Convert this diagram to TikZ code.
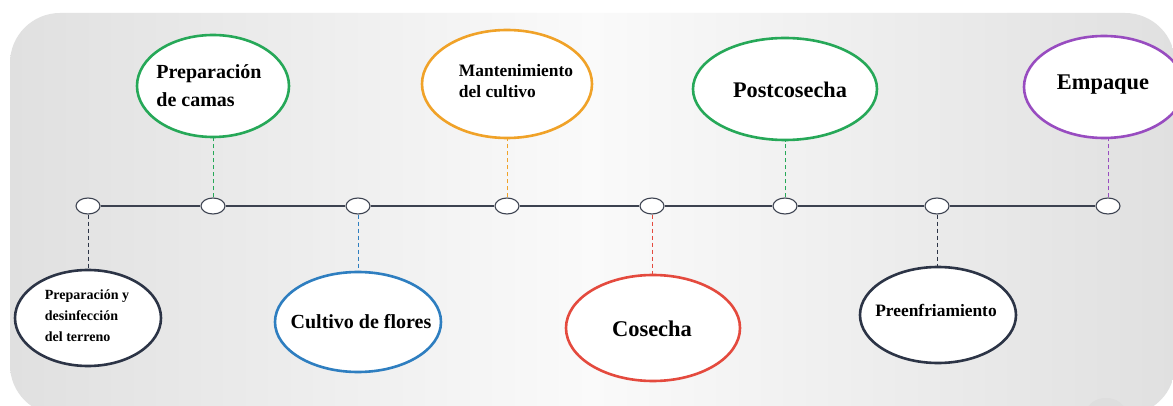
\documentclass[tikz,border=0pt]{standalone}
\usepackage{fontspec}
\setmainfont{Liberation Serif}
\usetikzlibrary{shapes.geometric}
\definecolor{navy}{RGB}{44,52,70}
\definecolor{cgreen}{RGB}{38,168,88}
\definecolor{cblue}{RGB}{46,126,192}
\definecolor{corange}{RGB}{240,162,40}
\definecolor{cred}{RGB}{228,74,62}
\definecolor{cpurple}{RGB}{152,76,192}
\definecolor{lineg}{RGB}{60,66,80}
\definecolor{bgside}{RGB}{224,224,224}
\definecolor{bgmid}{RGB}{250,250,250}
\definecolor{blob}{RGB}{222,222,222}
\tikzset{
  stage/.style={ellipse, draw=#1, line width=2.6pt, fill=white, inner sep=0pt},
  dot/.style={ellipse, draw=lineg, line width=1.1pt, fill=white, minimum width=24pt, minimum height=16pt, inner sep=0pt},
  link/.style={draw=#1, line width=0.9pt, dash pattern=on 4pt off 3pt},
  lbl/.style={font=\bfseries, align=left, inner sep=0pt}
}
\begin{document}
\begin{tikzpicture}[x=1pt,y=-1pt]
\useasboundingbox (0,0) rectangle (1173,406);
\clip (0,0) rectangle (1173,406);
\fill[white] (0,0) rectangle (1173,406);
\shade[left color=bgside, right color=bgside, middle color=bgmid, rounded corners=50pt] (10,13) rectangle (1175,415);
\fill[blob] (1106,412) ellipse (19pt and 14pt);
% timeline
\node[dot] (d1) at (88,206) {};
\node[dot] (d2) at (213,206) {};
\node[dot] (d3) at (358,206) {};
\node[dot] (d4) at (507,206) {};
\node[dot] (d5) at (652,206) {};
\node[dot] (d6) at (785,206) {};
\node[dot] (d7) at (937,206) {};
\node[dot] (d8) at (1108,206) {};
% stages
\node[stage=navy, minimum width=146pt, minimum height=96pt] (e1) at (88,318) {};
\node[stage=cgreen, minimum width=152pt, minimum height=102pt] (e2) at (213,86) {};
\node[stage=cblue, minimum width=166pt, minimum height=100pt] (e3) at (358,322) {};
\node[stage=corange, minimum width=170pt, minimum height=108pt] (e4) at (507,84) {};
\node[stage=cred, minimum width=174pt, minimum height=106pt] (e5) at (653,328) {};
\node[stage=cgreen, minimum width=184pt, minimum height=102pt] (e6) at (785,89) {};
\node[stage=navy, minimum width=156pt, minimum height=96pt] (e7) at (938,315) {};
\node[stage=cpurple, minimum width=160pt, minimum height=102pt] (e8) at (1104,87) {};
% connectors
\draw[link=navy] (d1.south) -- (d1.south |- e1.north);
\draw[link=cgreen] (d2.north) -- (d2.north |- e2.south);
\draw[link=cblue] (d3.south) -- (d3.south |- e3.north);
\draw[link=corange] (d4.north) -- (d4.north |- e4.south);
\draw[link=cred] (d5.south) -- (d5.south |- e5.north);
\draw[link=cgreen] (d6.north) -- (d6.north |- e6.south);
\draw[link=navy] (d7.south) -- (d7.south |- e7.north);
\draw[link=cpurple] (d8.north) -- (d8.north |- e8.south);
\draw[lineg, line width=2.8pt] (d1.east) -- (d2.west) (d2.east) -- (d3.west) (d3.east) -- (d4.west) (d4.east) -- (d5.west) (d5.east) -- (d6.west) (d6.east) -- (d7.west) (d7.east) -- (d8.west);
% labels
\node[lbl, font=\bfseries\fontsize{14}{21}\selectfont] (t1) at (87,316) {Preparación y\\desinfección\\del terreno};
\node[lbl, font=\bfseries\fontsize{20}{28}\selectfont] (t2) at (209,86) {Preparación\\de camas};
\node[lbl, font=\bfseries\fontsize{20}{24}\selectfont] (t3) at (361,322) {Cultivo de flores};
\node[lbl, font=\bfseries\fontsize{17.4}{21}\selectfont] (t4) at (516,81) {Mantenimiento\\del cultivo};
\node[lbl, font=\bfseries\fontsize{22.5}{26}\selectfont] (t5) at (652,329) {Cosecha};
\node[lbl, font=\bfseries\fontsize{22.3}{26}\selectfont] (t6) at (790,90) {Postcosecha};
\node[lbl, font=\bfseries\fontsize{17.4}{21}\selectfont] (t7) at (936,310) {Preenfriamiento};
\node[lbl, font=\bfseries\fontsize{22.4}{26}\selectfont] (t8) at (1103,85) {Empaque};
\end{tikzpicture}
\end{document}
